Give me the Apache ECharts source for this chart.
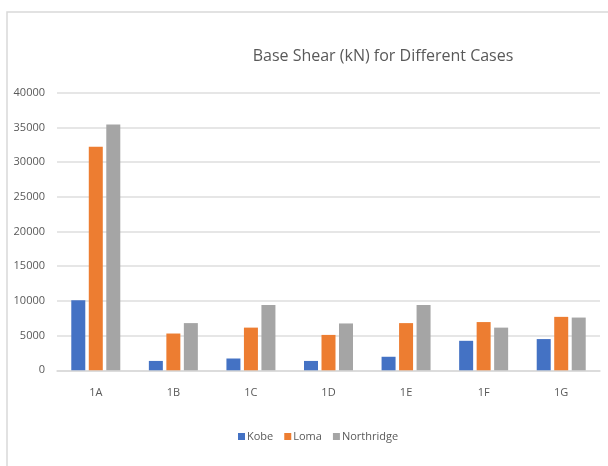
<!DOCTYPE html>
<html>
<head>
<meta charset="utf-8">
<script src="https://cdn.jsdelivr.net/npm/echarts@6/dist/echarts.min.js"></script>
<style>
  html, body { margin: 0; padding: 0; background: #fff; }
  #chart { width: 608px; height: 466px; }
</style>
</head>
<body>
<div id="chart"></div>
<script>
// Base shear per case for three ground-motion records
const categories = ['1A', '1B', '1C', '1D', '1E', '1F', '1G'];
const kobe       = [10100, 1350, 1700, 1350, 1950, 4250, 4500];
const loma       = [32200, 5300, 6150, 5100, 6800, 6950, 7700];
const northridge = [35400, 6800, 9400, 6750, 9400, 6150, 7600];
const yTicks     = [0, 5000, 10000, 15000, 20000, 25000, 30000, 35000, 40000];

const FONT = "'Open Sans', sans-serif";
const TEXT = '#595959';

const chart = echarts.init(document.getElementById('chart'), null, { renderer: 'canvas' });

const barSeries = (name, data, color) => ({
  name, type: 'bar', data,
  barWidth: 14, barGap: '25%',
  itemStyle: { color },
  emphasis: { disabled: true }
});

chart.setOption({
  animation: false,
  backgroundColor: '#ffffff',
  graphic: [{
    type: 'rect',
    shape: { x: 7, y: 12, width: 700, height: 600 },
    style: { fill: 'none', stroke: '#d9d9d9', lineWidth: 1.5 },
    silent: true
  }],
  title: {
    text: 'Base Shear (kN) for Different Cases',
    left: 378, top: 43, textAlign: 'center',
    textStyle: { fontFamily: FONT, fontSize: 16, fontWeight: 'normal', color: TEXT }
  },
  legend: {
    bottom: 19, left: 233,
    itemWidth: 7, itemHeight: 7, itemGap: 11,
    icon: 'rect',
    textStyle: { fontFamily: FONT, fontSize: 11, color: TEXT, padding: [0, 0, 0, -3] }
  },
  grid: { left: 57, right: 8, top: 92.7, bottom: 95.7, containLabel: false },
  xAxis: {
    type: 'category', data: categories,
    axisLine: { lineStyle: { color: '#d9d9d9', width: 1.5 } },
    axisTick: { show: false },
    axisLabel: { fontFamily: FONT, fontSize: 11, color: TEXT, margin: 17 }
  },
  yAxis: {
    type: 'value', min: yTicks[0], max: yTicks[yTicks.length - 1], interval: yTicks[1] - yTicks[0],
    axisLine: { show: false },
    axisTick: { show: false },
    splitLine: { lineStyle: { color: '#dedede', width: 1.5 } },
    axisLabel: { fontFamily: FONT, fontSize: 11, color: TEXT, margin: 12, formatter: v => String(v) }
  },
  series: [
    barSeries('Kobe', kobe, '#4472c4'),
    barSeries('Loma', loma, '#ed7d31'),
    barSeries('Northridge', northridge, '#a5a5a5')
  ]
});
</script>
</body>
</html>
